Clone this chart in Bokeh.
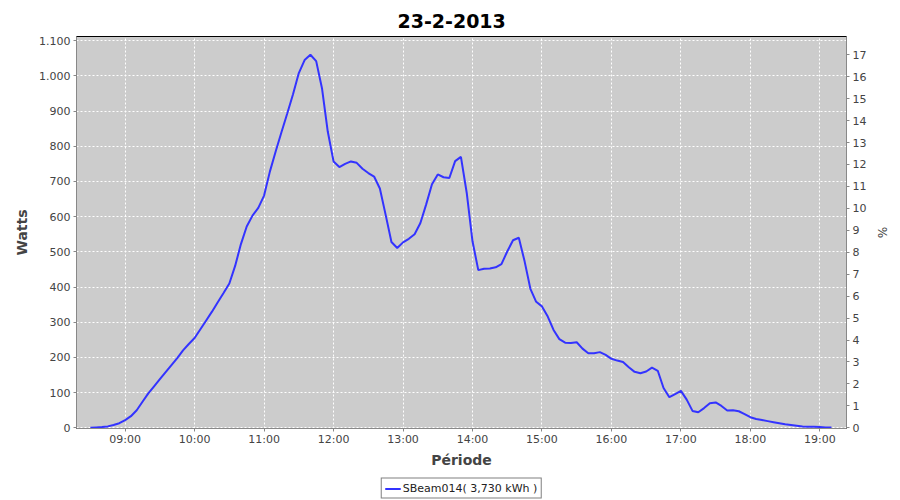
import pandas as pd
from bokeh.plotting import figure
from bokeh.layouts import column
from bokeh.models import Range1d, LinearAxis, FixedTicker, Legend, LegendItem
from bokeh.embed import file_html
from bokeh.resources import INLINE

# ---- data ----
chart_title = "23-2-2013"
series_label = "SBeam014( 3,730 kWh )"
start_time = "2013-02-23 08:30"
sample_step = "5min"
watts = [
    0, 1, 2, 4, 8, 13,                      # 08:30 - 08:55
    22, 33, 50, 74, 98, 118, 138, 158, 178, 198, 220, 238,   # 09:00 - 09:55
    255, 280, 305, 330, 357, 383, 410, 460, 522, 572, 603, 625,  # 10
    660, 728, 785, 840, 893, 948, 1008, 1045, 1060, 1042, 965, 842,  # 11
    757, 741, 750, 757, 753, 736, 724, 714, 680, 605, 528, 511,  # 12
    527, 537, 550, 582, 635, 692, 720, 712, 710, 758, 770, 668,  # 13
    530, 448, 452, 453, 456, 465, 501, 533, 540, 473, 395, 358,  # 14
    345, 316, 278, 252, 242, 241, 243, 225, 212, 212, 215, 207,  # 15
    196, 191, 187, 172, 159, 155, 160, 171, 162, 113, 87, 96,    # 16
    105, 80, 48, 44, 56, 70, 72, 62, 49, 50, 47, 39,             # 17
    30, 25, 22, 19, 16, 13, 10, 8, 6, 4, 3, 3,                   # 18
    2, 1, 1,                                                     # 19:00 - 19:10
]
x_tick_labels = ["09:00", "10:00", "11:00", "12:00", "13:00", "14:00",
                 "15:00", "16:00", "17:00", "18:00", "19:00"]
y_ticks = [0, 100, 200, 300, 400, 500, 600, 700, 800, 900, 1000, 1100]
y_tick_labels = ["0", "100", "200", "300", "400", "500", "600", "700",
                 "800", "900", "1.000", "1.100"]
pct_ticks = list(range(0, 18))
x_start = "2013-02-23 08:18"
x_end = "2013-02-23 19:23"
y_start, y_end = -2, 1112
pct_start, pct_end = -0.03, 17.83

def to_ms(t):
    return pd.Timestamp(t).value / 1e6

times = pd.date_range(start_time, periods=len(watts), freq=sample_step)
times_ms = [t.value / 1e6 for t in times]
tick_ms = [to_ms("2013-02-23 " + t) for t in x_tick_labels]

FONT = "DejaVu Sans"
GREY_TXT = "#444444"
AXIS_COL = "#888888"
LINE_COL = "#3333ff"

p = figure(frame_width=770, frame_height=392, output_backend="svg", toolbar_location=None,
           x_range=Range1d(to_ms(x_start), to_ms(x_end)),
           y_range=Range1d(y_start, y_end),
           min_border_left=76, min_border_right=54, min_border_top=36,
           min_border_bottom=48)
p.extra_y_ranges = {"pct": Range1d(pct_start, pct_end)}

p.title.text = chart_title
p.title.align = "left"
p.title.vertical_align = "top"
p.title.text_font = FONT
p.title.text_font_size = "19px"
p.title.text_font_style = "bold"
p.title.text_color = "#000000"
p.title.standoff = 14
p.title.offset = 321

p.background_fill_color = "#cccccc"
p.border_fill_color = "white"
p.outline_line_color = "black"
p.outline_line_width = 1

line = p.line(times_ms, watts, line_color=LINE_COL, line_width=2)

# x axis
xa = p.xaxis[0]
xa.ticker = FixedTicker(ticks=tick_ms)
xa.major_label_overrides = {ms: lab for ms, lab in zip(tick_ms, x_tick_labels)}
xa.axis_label = "Période"

# left axis
ya = p.yaxis[0]
ya.ticker = FixedTicker(ticks=y_ticks)
ya.major_label_overrides = {v: lab for v, lab in zip(y_ticks, y_tick_labels)}
ya.axis_label = "Watts"

# right axis
ra = LinearAxis(y_range_name="pct", axis_label="%", ticker=FixedTicker(ticks=pct_ticks))
p.add_layout(ra, "right")

for ax in [xa, ya, ra]:
    ax.axis_line_color = AXIS_COL
    ax.major_tick_line_color = AXIS_COL
    ax.major_tick_out = 3
    ax.major_tick_in = 0
    ax.minor_tick_line_color = None
    ax.minor_tick_out = 0
    ax.minor_tick_in = 0
    ax.major_label_text_font = FONT
    ax.major_label_text_font_size = "11px"
    ax.major_label_text_color = GREY_TXT
    ax.major_label_standoff = 3
    ax.axis_label_text_font = FONT
    ax.axis_label_text_font_size = "14px"
    ax.axis_label_text_font_style = "bold"
    ax.axis_label_text_color = GREY_TXT
    ax.axis_label_standoff = 6
xa.major_label_standoff = 1
xa.axis_label_standoff = 3
ra.axis_label_text_font_size = "12px"
ra.axis_label_text_font_style = "normal"
ra.axis_label_standoff = 6

for g in [p.xgrid[0], p.ygrid[0]]:
    g.grid_line_color = "white"
    g.grid_line_dash = "2 2"
    g.grid_line_width = 1
p.xgrid[0].ticker = xa.ticker
p.ygrid[0].ticker = ya.ticker

# legend strip below the chart (same series, kept out of its view range)
pl = figure(width=900, height=24, output_backend="svg", toolbar_location=None,
            x_range=Range1d(0, 1), y_range=Range1d(0, 1),
            x_axis_location=None, y_axis_location=None, min_border=0)
pl.outline_line_color = None
pl.background_fill_color = "white"
pl.border_fill_color = "white"
pl.xgrid.visible = False
pl.ygrid.visible = False
key = pl.line(times_ms, watts, line_color=LINE_COL, line_width=2)

legend = Legend(items=[LegendItem(label=series_label, renderers=[key])],
                location="center", orientation="horizontal")
legend.border_line_color = "black"
legend.border_line_width = 1
legend.background_fill_color = "white"
legend.background_fill_alpha = 1.0
legend.label_text_font = FONT
legend.label_text_font_size = "11px"
legend.label_text_color = "#222222"
legend.glyph_width = 16
legend.glyph_height = 12
legend.label_height = 12
legend.label_standoff = 2
legend.padding = 3
legend.spacing = 0
legend.margin = 0
pl.add_layout(legend)

layout = column(p, pl, spacing=0)
open("out.html", "w").write(file_html(layout, INLINE))
